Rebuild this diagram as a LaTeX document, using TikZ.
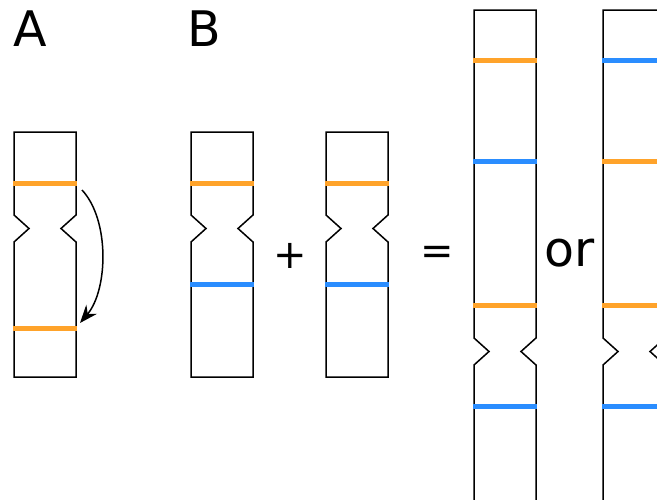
\documentclass[tikz,border=0pt]{standalone}
\usepackage{fontspec}
\setmainfont{DejaVu Sans}
\usetikzlibrary{arrows.meta}
\definecolor{bandorange}{RGB}{255,163,42}
\definecolor{bandblue}{RGB}{42,141,255}
\tikzset{
	band/.style={line width=5pt},
	lbl/.style={inner sep=0pt, font=\fontsize{49}{55}\selectfont},
	sign/.style={inner sep=0pt, font=\fontsize{40}{45}\selectfont}
}
\begin{document}
\begin{tikzpicture}[x=1pt, y=-1pt, line width=1.5pt]
		\useasboundingbox (0,0) rectangle (657,499);
		\clip (0,0) rectangle (657,499);
		\node[lbl] (labA) at (30.5,29) {A};
		\node[lbl] (labB) at (204,29) {B};
		\node[sign] (plus) at (290,256) {+};
		\node[sign] (equals) at (437,255) {=};
		\node[lbl] (or) at (570,253.5) {or};
		% Chromosomen (links, Kerbe, rechts)
		\foreach \x/\top/\bot/\n in {14/132/377/215, 191/132/377/215, 326/132/377/215, 474/10/520/338, 603/10/520/338} {
			\draw[line join=miter] (\x,\top) -- (\x+62,\top) -- (\x+62,\n) -- (\x+47,\n+13.5) -- (\x+62,\n+27)
				-- (\x+62,\bot) -- (\x,\bot) -- (\x,\n+27) -- (\x+15,\n+13.5) -- (\x,\n) -- cycle;
		}
		% Banden
		\foreach \x/\y/\col in {14/183/bandorange, 14/328/bandorange,
			191/183/bandorange, 191/284/bandblue, 326/183/bandorange, 326/284/bandblue,
			474/60/bandorange, 474/161/bandblue, 474/305/bandorange, 474/406/bandblue,
			603/60/bandblue, 603/161/bandorange, 603/305/bandorange, 603/406/bandblue} {
			\draw[band, \col] (\x-0.75,\y) -- (\x+62.75,\y);
		}
		% Verschiebung der Bande
		\coordinate (from) at (82,190);
		\coordinate (to) at (80,323);
		\draw[line width=1.5pt, -{Stealth[length=18pt, width=14pt, inset=6pt]}] (from) .. controls (110,220) and (108,290) .. (to);
	\end{tikzpicture}
\end{document}
